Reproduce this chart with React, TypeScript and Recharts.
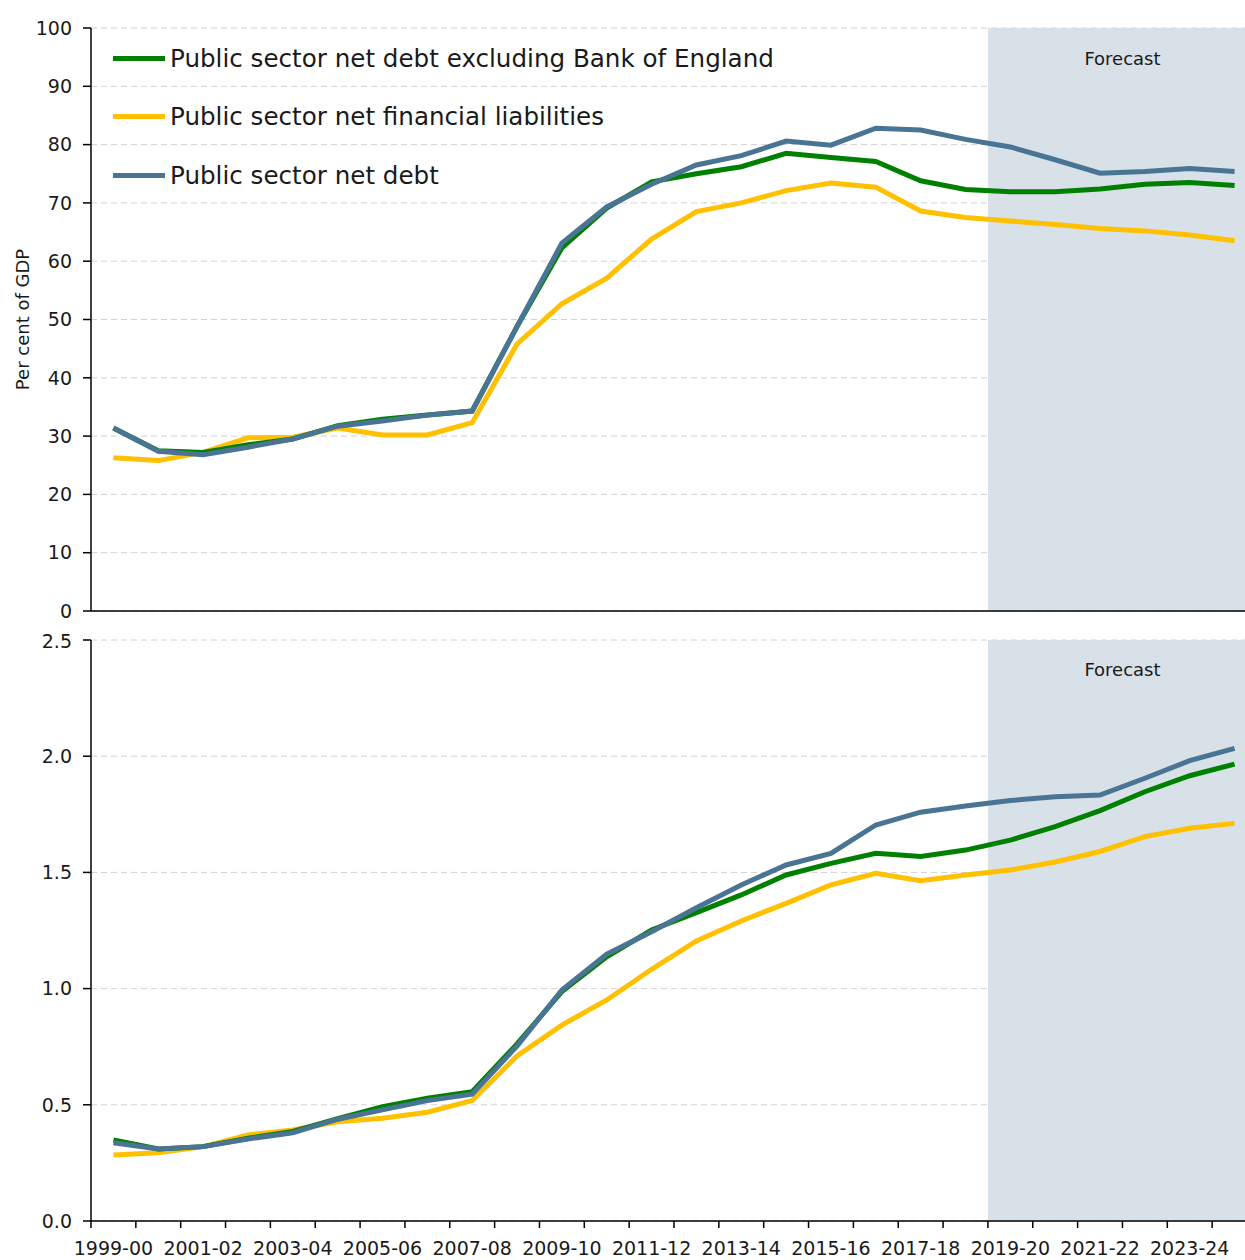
import React from 'react';
import {
  LineChart,
  Line,
  XAxis,
  YAxis,
  CartesianGrid,
  Legend,
  ReferenceArea,
} from 'recharts';

// Financial years on the x axis
const categories = [
  '1999-00', '2000-01', '2001-02', '2002-03', '2003-04', '2004-05', '2005-06',
  '2006-07', '2007-08', '2008-09', '2009-10', '2010-11', '2011-12', '2012-13',
  '2013-14', '2014-15', '2015-16', '2016-17', '2017-18', '2018-19', '2019-20',
  '2020-21', '2021-22', '2022-23', '2023-24', '2024-25',
];

// Top panel: per cent of GDP
const psndExBoePct = [
  31.4, 27.5, 27.2, 28.5, 29.5, 31.8, 32.9, 33.6, 34.3, 48.8, 62.3, 69.1, 73.6,
  75.0, 76.2, 78.5, 77.8, 77.1, 73.8, 72.3, 71.9, 71.9, 72.4, 73.2, 73.5, 73.0,
];
const psnflPct = [
  26.3, 25.8, 27.2, 29.7, 29.8, 31.4, 30.2, 30.2, 32.3, 45.8, 52.7, 57.1, 63.8,
  68.5, 70.0, 72.1, 73.4, 72.7, 68.6, 67.5, 66.9, 66.3, 65.6, 65.2, 64.5, 63.5,
];
const psndPct = [
  31.4, 27.4, 26.8, 28.1, 29.5, 31.7, 32.6, 33.6, 34.3, 48.8, 63.1, 69.3, 73.2,
  76.5, 78.1, 80.6, 79.9, 82.8, 82.5, 80.9, 79.6, 77.4, 75.1, 75.4, 75.9, 75.4,
];

// Bottom panel: levels
const psndExBoeLvl = [
  0.349, 0.31, 0.32, 0.356, 0.385, 0.44, 0.492, 0.528, 0.556, 0.762, 0.987, 1.137, 1.252,
  1.327, 1.403, 1.489, 1.539, 1.582, 1.568, 1.596, 1.639, 1.697, 1.766, 1.847, 1.916, 1.966,
];
const psnflLvl = [
  0.284, 0.294, 0.32, 0.37, 0.392, 0.427, 0.442, 0.468, 0.518, 0.71, 0.843, 0.951, 1.083,
  1.205, 1.291, 1.367, 1.446, 1.496, 1.464, 1.489, 1.51, 1.545, 1.59, 1.654, 1.69, 1.711,
];
const psndLvl = [
  0.337, 0.31, 0.32, 0.353, 0.38, 0.438, 0.478, 0.518, 0.546, 0.753, 0.994, 1.148, 1.245,
  1.348, 1.446, 1.532, 1.582, 1.704, 1.759, 1.786, 1.809, 1.826, 1.833, 1.905, 1.981, 2.034,
];

const topTicks = [0, 10, 20, 30, 40, 50, 60, 70, 80, 90, 100];
const bottomTicks = [0, 0.5, 1.0, 1.5, 2.0, 2.5];
const forecastStart = '2019-20';

const series = [
  { key: 'exBoe', name: 'Public sector net debt excluding Bank of England', color: '#008000' },
  { key: 'psnfl', name: 'Public sector net financial liabilities', color: '#FFC000' },
  { key: 'psnd', name: 'Public sector net debt', color: '#4A7494' },
];

const pctData = categories.map((c, i) => ({
  i, label: c, exBoe: psndExBoePct[i], psnfl: psnflPct[i], psnd: psndPct[i],
}));
const lvlData = categories.map((c, i) => ({
  i, label: c, exBoe: psndExBoeLvl[i], psnfl: psnflLvl[i], psnd: psndLvl[i],
}));

// tick lines sit on the boundaries between years
const boundaryTicks = [...categories.map((_, i) => i - 0.5), categories.length - 0.5];
const forecastX1 = categories.indexOf(forecastStart) - 0.5;
const xMax = categories.length - 0.5;

const FONT = '"DejaVu Sans", sans-serif';
const TEXT = '#1a1a1a';
const CHART_W = 1280;
const BAND = (CHART_W - 23 - 91) / categories.length;

const yearLabel = (v) => {
  const i = Math.round(v + 0.5);
  return i % 2 === 0 && i < categories.length ? categories[i] : '';
};

const LegendBox = () => (
  <div style={{ fontFamily: FONT }}>
    {series.map((s) => (
      <div key={s.key} style={{ height: 58.5, display: 'flex', alignItems: 'center' }}>
        <div style={{ width: 52, height: 5, background: s.color, marginRight: 5 }} />
        <span style={{ fontSize: 24.6, color: TEXT, whiteSpace: 'nowrap' }}>{s.name}</span>
      </div>
    ))}
  </div>
);

const renderLines = () =>
  [series[1], series[0], series[2]].map((s) => (
    <Line
      key={s.key}
      type="linear"
      dataKey={s.key}
      name={s.name}
      stroke={s.color}
      strokeWidth={5}
      dot={false}
      activeDot={false}
      isAnimationActive={false}
    />
  ));

const axisStroke = { stroke: '#000', strokeWidth: 1.5 };
const gridColor = '#d2d2d2';

const App = () => {
  return (
    <div
      style={{
        position: 'absolute', left: 0, top: 0, width: 1245, height: 1260,
        overflow: 'hidden', background: '#fff', fontFamily: FONT,
      }}
    >
      {/* Per cent of GDP */}
      <LineChart width={CHART_W} height={630} data={pctData}
        margin={{ top: 28, right: 23, left: 11, bottom: 0 }}>
        <CartesianGrid vertical={false} stroke={gridColor} strokeDasharray="6 4" />
        <ReferenceArea
          x1={forecastX1}
          x2={xMax}
          fill="#D8E0E8"
          fillOpacity={1}
          stroke="none"
          label={{ value: 'Forecast', position: 'insideTop', offset: 24, fontSize: 18, fill: TEXT, fontFamily: FONT }}
        />
        <XAxis
          type="number"
          dataKey="i"
          domain={[-0.5, xMax]}
          ticks={boundaryTicks}
          interval={0}
          tick={false}
          tickSize={7}
          height={19}
          axisLine={axisStroke}
          tickLine={axisStroke}
        />
        <YAxis
          domain={[0, 100]}
          ticks={topTicks}
          width={80}
          tickSize={8}
          tickMargin={11}
          axisLine={axisStroke}
          tickLine={axisStroke}
          tick={{ fontSize: 19, fill: TEXT, fontFamily: FONT }}
          label={{
            value: 'Per cent of GDP', angle: -90, position: 'insideLeft', offset: 12,
            style: { textAnchor: 'middle', fontSize: 18, fill: TEXT, fontFamily: FONT },
          }}
        />
        <Legend
          layout="vertical"
          align="center"
          verticalAlign="middle"
          wrapperStyle={{ left: 113, top: 29, width: 'auto' }}
          content={() => <LegendBox />}
        />
        {renderLines()}
      </LineChart>

      {/* Levels */}
      <LineChart width={CHART_W} height={630} data={lvlData}
        margin={{ top: 10, right: 23, left: 11, bottom: 0 }}>
        <CartesianGrid vertical={false} stroke={gridColor} strokeDasharray="6 4" />
        <ReferenceArea
          x1={forecastX1}
          x2={xMax}
          fill="#D8E0E8"
          fillOpacity={1}
          stroke="none"
          label={{ value: 'Forecast', position: 'insideTop', offset: 23, fontSize: 18, fill: TEXT, fontFamily: FONT }}
        />
        <XAxis
          type="number"
          dataKey="i"
          domain={[-0.5, xMax]}
          ticks={boundaryTicks}
          interval={0}
          tickFormatter={yearLabel}
          tick={{ fontSize: 19, fill: TEXT, fontFamily: FONT, dx: BAND / 2 }}
          tickSize={7}
          tickMargin={14}
          height={39}
          axisLine={axisStroke}
          tickLine={axisStroke}
        />
        <YAxis
          domain={[0, 2.5]}
          ticks={bottomTicks}
          width={80}
          tickSize={8}
          tickMargin={11}
          tickFormatter={(v) => v.toFixed(1)}
          axisLine={axisStroke}
          tickLine={axisStroke}
          tick={{ fontSize: 19, fill: TEXT, fontFamily: FONT }}
        />
        {renderLines()}
      </LineChart>
    </div>
  );
};

export default App;
